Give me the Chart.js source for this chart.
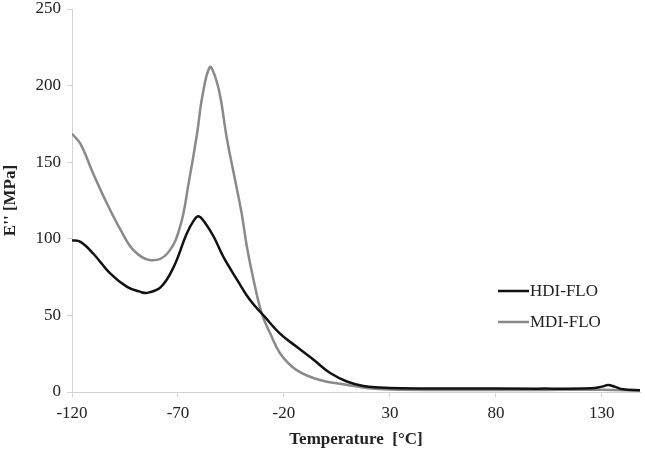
<!DOCTYPE html>
<html>
<head>
<meta charset="utf-8">
<script src="https://cdn.jsdelivr.net/npm/chart.js@4.4.1/dist/chart.umd.min.js"></script>
<style>
  html, body { margin: 0; padding: 0; background: #fff; }
  #wrap { width: 645px; height: 450px; }
</style>
</head>
<body>
<div id="wrap"><canvas id="chart" width="645" height="450"></canvas></div>
<script>
// ── Data ──────────────────────────────────────────────────────────────────
const xTicks = [-120, -70, -20, 30, 80, 130];

const hdiTemp = [-120, -116, -110, -102, -94, -88, -84.5, -78, -72, -66, -62.5, -60.3, -57, -53,
  -48.5, -42, -36, -29, -22, -14, -6, 2, 10, 17.5, 25, 35, 60, 100, 125, 130, 133, 136, 140, 148];
const hdiValues = [99, 98, 90.4, 77.4, 68.6, 65.5, 64.7, 68.6, 81.7, 103, 112, 114.7, 110, 101,
  88, 73, 60, 49, 38.3, 29.5, 21, 12.2, 6.7, 3.9, 3, 2.5, 2.3, 2.2, 2.5, 3.5, 4.5, 3.5, 1.8, 1.2];

const mdiTemp = [-120, -116, -110, -103.5, -97, -91, -83, -75, -69, -65, -61, -58.5, -55, -52.5,
  -50, -47, -43, -40, -37.5, -34.3, -30.4, -26.5, -21.7, -14, -3, 10, 20, 30, 60, 100, 130, 148];
const mdiValues = [168.6, 162, 142.6, 123, 105.6, 92.6, 86, 90.4, 108, 136, 168.6, 193, 212, 206,
  192.5, 166, 138, 117, 95, 73, 51, 38.3, 25, 14.3, 7.8, 4.6, 2.5, 1.7, 1.3, 1.3, 1.5, 1];

const seriesLabels = ['HDI-FLO', 'MDI-FLO'];
const seriesColors = ['#111111', '#8a8a8a'];

const pairs = (xs, ys) => xs.map((x, i) => ({ x, y: ys[i] }));

const serif = '"Liberation Serif", "DejaVu Serif", serif';
const axisColor = '#d3d3d3';

// Legend drawn inside the plot area, like the original
const insideLegend = {
  id: 'insideLegend',
  afterDraw(chart) {
    const { ctx } = chart;
    ctx.save();
    ctx.font = `17px ${serif}`;
    ctx.textBaseline = 'middle';
    chart.data.datasets.forEach((ds, i) => {
      const y = 291 + i * 31;
      ctx.strokeStyle = ds.borderColor;
      ctx.lineWidth = ds.borderWidth;
      ctx.beginPath();
      ctx.moveTo(498, y);
      ctx.lineTo(529, y);
      ctx.stroke();
      ctx.fillStyle = '#222';
      ctx.fillText(ds.label, 530, y + 1);
    });
    ctx.restore();
  }
};

new Chart(document.getElementById('chart'), {
  type: 'line',
  data: {
    datasets: [
      {
        label: seriesLabels[0],
        data: pairs(hdiTemp, hdiValues),
        borderColor: seriesColors[0],
        borderWidth: 2.5,
        pointRadius: 0,
        tension: 0.4,
      },
      {
        label: seriesLabels[1],
        data: pairs(mdiTemp, mdiValues),
        borderColor: seriesColors[1],
        borderWidth: 2.5,
        pointRadius: 0,
        tension: 0.4,
      },
    ],
  },
  options: {
    responsive: false,
    animation: false,
    layout: { padding: { top: 0, right: 5, left: 0, bottom: 0 } },
    scales: {
      x: {
        type: 'linear',
        min: -120,
        max: 148,
        afterBuildTicks: s => { s.ticks = xTicks.map(v => ({ value: v })); },
        afterFit: s => { s.height = 58; },
        ticks: { color: '#222', font: { family: serif, size: 17 }, padding: 6, maxRotation: 0 },
        grid: { drawOnChartArea: false, drawTicks: true, tickLength: 5, color: axisColor },
        border: { color: axisColor, width: 1 },
        title: {
          display: true,
          text: 'Temperature  [°C]',
          color: '#222',
          font: { family: serif, size: 17, weight: 'bold' },
          padding: { top: 0, bottom: 0 },
        },
      },
      y: {
        min: 0,
        max: 250,
        afterFit: s => { s.width = 72; s.paddingTop = 9; s.paddingBottom = 0; },
        ticks: { stepSize: 50, color: '#222', font: { family: serif, size: 17 }, padding: 6 },
        grid: { drawOnChartArea: false, drawTicks: true, tickLength: 5, color: axisColor },
        border: { color: axisColor, width: 1 },
        title: {
          display: true,
          text: "E'' [MPa]",
          color: '#222',
          font: { family: serif, size: 17, weight: 'bold' },
          padding: { top: 0, bottom: 0 },
        },
      },
    },
    plugins: {
      legend: { display: false },
      tooltip: { enabled: false },
    },
  },
  plugins: [insideLegend],
});
</script>
</body>
</html>
